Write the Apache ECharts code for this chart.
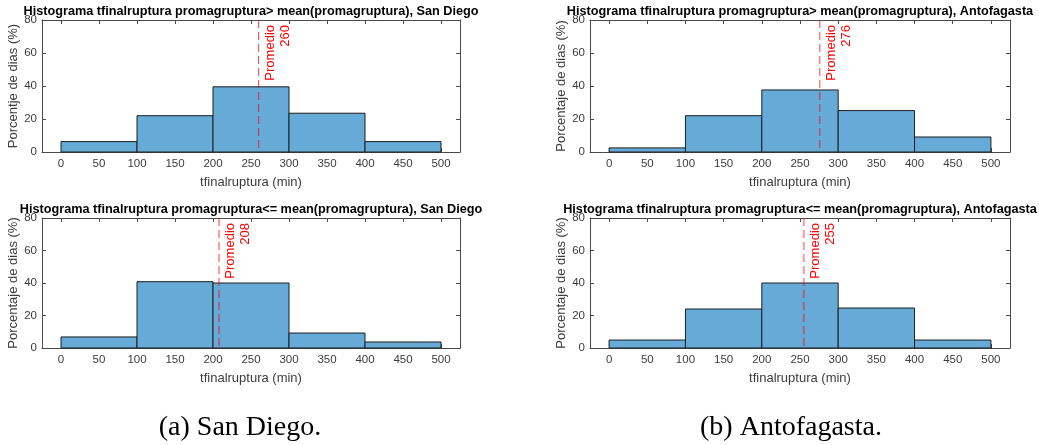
<!DOCTYPE html>
<html>
<head>
<meta charset="utf-8">
<script src="https://cdn.jsdelivr.net/npm/echarts@6/dist/echarts.min.js"></script>
<style>
  html, body { margin: 0; padding: 0; background: #ffffff; }
  #chart { width: 1039px; height: 445px; }
</style>
</head>
<body>
<div id="chart"></div>
<script>
// Histogram bins (minutes) and the percentage of days in each bin
const binEdges = [0, 100, 200, 300, 400, 500];
const sanDiegoHigh = [6.3, 22.0, 39.5, 23.5, 6.3];
const antofagastaHigh = [2.5, 22.0, 37.6, 25.1, 9.1];
const sanDiegoLow = [6.8, 40.8, 40.0, 9.2, 3.7];
const antofagastaLow = [4.9, 24.0, 40.0, 24.6, 4.9];

// Mean of tfinalruptura for each subset
const means = [260, 276, 208, 255];

const titles = [
  'Histograma tfinalruptura promagruptura> mean(promagruptura), San Diego',
  'Histograma tfinalruptura promagruptura> mean(promagruptura), Antofagasta',
  'Histograma tfinalruptura promagruptura<= mean(promagruptura), San Diego',
  'Histograma tfinalruptura promagruptura<= mean(promagruptura), Antofagasta'
];
const yNames = [
  'Porcentje de dias (%)',
  'Porcentaje de dias (%)',
  'Porcentaje de dias (%)',
  'Porcentaje de dias (%)'
];
const xName = 'tfinalruptura (min)';
const xTicks = [0, 50, 100, 150, 200, 250, 300, 350, 400, 450, 500];
const yTicks = [0, 20, 40, 60, 80];
const meanLabel = 'Promedio';
const captions = ['(a) San Diego.', '(b) Antofagasta.'];

const panelValues = [sanDiegoHigh, antofagastaHigh, sanDiegoLow, antofagastaLow];

// Panel layout
const grids = [
  { left: 42, top: 20, width: 418, height: 132 },
  { left: 590, top: 20, width: 420, height: 132 },
  { left: 42, top: 218, width: 418, height: 130 },
  { left: 590, top: 218, width: 420, height: 130 }
];
const yNameGaps = [21, 20, 21, 20];
const meanLineStyles = [
  { stroke: 'rgba(255,0,0,0.75)', lineWidth: 1 },
  { stroke: 'rgba(255,0,0,0.75)', lineWidth: 1 },
  { stroke: 'rgba(255,0,0,0.4)', lineWidth: 2 },
  { stroke: 'rgba(255,0,0,0.4)', lineWidth: 2 }
];

const SANS = 'Liberation Sans, Arial, Helvetica, sans-serif';
const SERIF = '"Liberation Serif", "Times New Roman", serif';
const AXIS_COLOR = '#4a4a4a';
const LABEL_COLOR = '#3c3c3c';
const BAR_FILL = '#66aad7';
const BAR_EDGE = '#1e1e1e';

const xAxes = [];
const yAxes = [];
const series = [];
const graphics = [];

grids.forEach(function (g, i) {
  const lineStyle = { color: AXIS_COLOR, width: 1 };
  // bottom axis with labels
  xAxes.push({
    gridIndex: i, type: 'value', position: 'bottom', min: -25, max: 525,
    axisLine: { show: true, onZero: false, lineStyle: lineStyle },
    axisTick: { show: true, inside: true, length: 4, customValues: xTicks, lineStyle: lineStyle },
    axisLabel: { show: true, customValues: xTicks, color: LABEL_COLOR, fontSize: 11.5, fontFamily: SANS, margin: 6 },
    splitLine: { show: false },
    name: xName, nameLocation: 'middle', nameGap: 24,
    nameTextStyle: { color: LABEL_COLOR, fontSize: 13, fontFamily: SANS }
  });
  // top axis: box edge with ticks only
  xAxes.push({
    gridIndex: i, type: 'value', position: 'top', min: -25, max: 525,
    axisLine: { show: true, onZero: false, lineStyle: lineStyle },
    axisTick: { show: true, inside: true, length: 4, customValues: xTicks, lineStyle: lineStyle },
    axisLabel: { show: false },
    splitLine: { show: false }
  });
  yAxes.push({
    gridIndex: i, type: 'value', position: 'left', min: 0, max: 80, interval: 20,
    axisLine: { show: true, onZero: false, lineStyle: lineStyle },
    axisTick: { show: true, inside: true, length: 4, lineStyle: lineStyle },
    axisLabel: { show: true, color: LABEL_COLOR, fontSize: 11.5, fontFamily: SANS, margin: 5,
      formatter: function (v) { return yTicks.indexOf(v) >= 0 ? String(v) : ''; } },
    splitLine: { show: false },
    name: yNames[i], nameLocation: 'middle', nameGap: yNameGaps[i], nameRotate: 90,
    nameTextStyle: { color: LABEL_COLOR, fontSize: 13, fontFamily: SANS }
  });
  yAxes.push({
    gridIndex: i, type: 'value', position: 'right', min: 0, max: 80, interval: 20,
    axisLine: { show: true, onZero: false, lineStyle: lineStyle },
    axisTick: { show: true, inside: true, length: 4, lineStyle: lineStyle },
    axisLabel: { show: false },
    splitLine: { show: false }
  });

  const values = panelValues[i];
  const barData = values.map(function (v, k) { return [binEdges[k], binEdges[k + 1], v]; });

  series.push({
    type: 'custom',
    xAxisIndex: i * 2, yAxisIndex: i * 2,
    z: 2,
    encode: { x: [0, 1], y: 2 },
    data: barData,
    renderItem: function (params, api) {
      const p0 = api.coord([api.value(0), 0]);
      const p1 = api.coord([api.value(1), api.value(2)]);
      return {
        type: 'rect',
        shape: { x: p0[0], y: p1[1], width: p1[0] - p0[0], height: p0[1] - p1[1] },
        style: { fill: BAR_FILL, stroke: BAR_EDGE, lineWidth: 1 }
      };
    }
  });

  const ls = meanLineStyles[i];
  series.push({
    type: 'custom',
    xAxisIndex: i * 2, yAxisIndex: i * 2,
    z: 3,
    encode: { x: 0 },
    data: [[means[i]]],
    renderItem: function (params, api) {
      const m = api.value(0);
      const top = api.coord([m, 80]);
      const bottom = api.coord([m, 0]);
      return {
        type: 'group',
        children: [
          {
            type: 'line',
            shape: { x1: top[0], y1: top[1], x2: bottom[0], y2: bottom[1] },
            style: { stroke: ls.stroke, lineWidth: ls.lineWidth, lineDash: [8, 4] }
          },
          {
            type: 'text',
            x: top[0] + 4, y: top[1] + 5,
            rotation: Math.PI / 2,
            style: {
              text: meanLabel + '\n' + Math.round(m),
              fill: '#ff0000',
              fontSize: 13, fontFamily: SANS,
              align: 'right', verticalAlign: 'top', lineHeight: 15
            }
          }
        ]
      };
    }
  });

  graphics.push({
    type: 'text',
    x: g.left + g.width / 2, y: g.top - 9,
    style: {
      text: titles[i], fill: '#000000',
      font: 'bold 12.7px ' + SANS,
      align: 'center', verticalAlign: 'middle'
    }
  });
});

graphics.push({
  type: 'text', x: 240, y: 428,
  style: { text: captions[0], fill: '#000000', font: '28px ' + SERIF, align: 'center', verticalAlign: 'middle' }
});
graphics.push({
  type: 'text', x: 791, y: 428,
  style: { text: captions[1], fill: '#000000', font: '28px ' + SERIF, align: 'center', verticalAlign: 'middle' }
});

const chart = echarts.init(document.getElementById('chart'), null, { renderer: 'canvas' });
chart.setOption({
  animation: false,
  backgroundColor: '#ffffff',
  grid: grids.map(function (g) { return Object.assign({ containLabel: false }, g); }),
  xAxis: xAxes,
  yAxis: yAxes,
  series: series,
  graphic: graphics
});
</script>
</body>
</html>
